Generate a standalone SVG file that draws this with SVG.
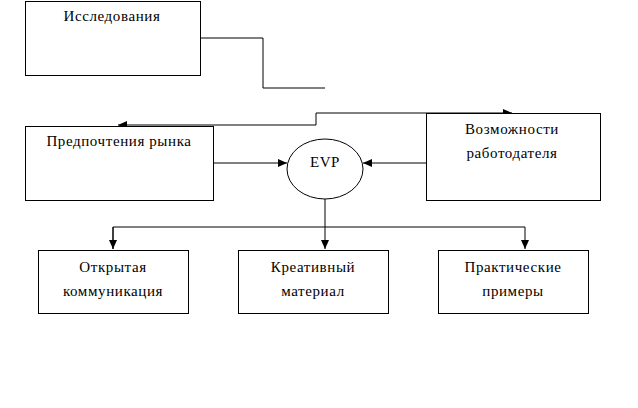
<svg xmlns="http://www.w3.org/2000/svg" width="638" height="408" viewBox="0 0 638 408">
<style>
.box{fill:#fff;stroke:#000;stroke-width:1}
.ln{fill:none;stroke:#000;stroke-width:1}
text{font-family:"Liberation Serif","DejaVu Serif",serif;font-size:15px;fill:#000;text-anchor:middle;letter-spacing:0.6px}
</style>
<defs>
<marker id="ah" markerWidth="9" markerHeight="8" refX="9" refY="4" orient="auto" markerUnits="userSpaceOnUse">
<path d="M0,0 L9,4 L0,8 Z" fill="#000"/>
</marker>
</defs>
<rect width="638" height="408" fill="#fff"/>
<g id="connectors">
<path class="ln" d="M200,38 H263 V88 H325"/>
<path class="ln" d="M316,125 H118" marker-end="url(#ah)"/>
<path class="ln" d="M316,125 V113 H512" marker-end="url(#ah)"/>
<path class="ln" d="M213,163 H287" marker-end="url(#ah)"/>
<path class="ln" d="M426,163 H363" marker-end="url(#ah)"/>
<path class="ln" d="M325,199 V249" marker-end="url(#ah)"/>
<path class="ln" d="M113,249 V227 H525 V249" marker-end="url(#ah)"/>
<path class="ln" d="M113,227 V249" marker-end="url(#ah)"/>
</g>
<g id="n-research">
<rect class="box" x="25.5" y="1.5" width="175" height="74"/>
<text x="112" y="21">Исследования</text>
</g>
<g id="n-market">
<rect class="box" x="25.5" y="126.5" width="188" height="74"/>
<text x="119" y="146">Предпочтения рынка</text>
</g>
<g id="n-employer">
<rect class="box" x="426.5" y="113.5" width="174" height="87"/>
<text x="512" y="134">Возможности</text>
<text x="512" y="158">работодателя</text>
</g>
<g id="n-evp">
<ellipse class="box" cx="325" cy="169" rx="38" ry="30"/>
<text x="325" y="167">EVP</text>
</g>
<g id="n-open">
<rect class="box" x="38.5" y="250.5" width="150" height="63"/>
<text x="113" y="272">Открытая</text>
<text x="113" y="296">коммуникация</text>
</g>
<g id="n-creative">
<rect class="box" x="238.5" y="250.5" width="150" height="63"/>
<text x="313" y="272">Креативный</text>
<text x="313" y="296">материал</text>
</g>
<g id="n-practical">
<rect class="box" x="438.5" y="250.5" width="150" height="63"/>
<text x="513" y="272">Практические</text>
<text x="513" y="296">примеры</text>
</g>
</svg>
